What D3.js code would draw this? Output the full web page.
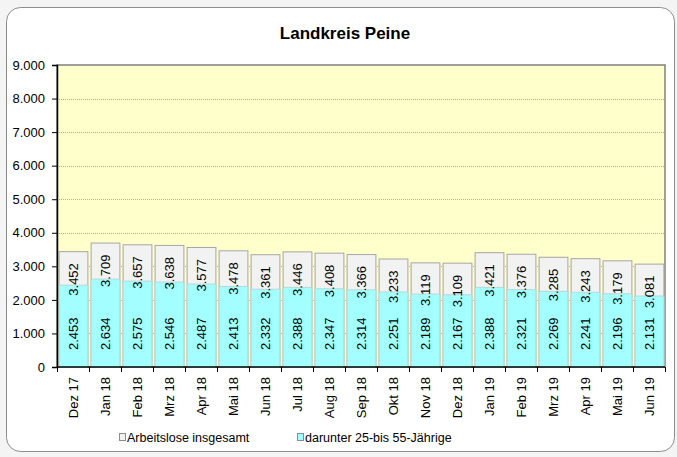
<!DOCTYPE html>
<html>
<head>
<meta charset="utf-8">
<script src="https://cdn.jsdelivr.net/npm/d3@7"></script>
<style>
  body { margin: 0; background: #f4f4f4; }
  svg text { font-family: "Liberation Sans", Arial, sans-serif; }
</style>
</head>
<body>
<script>
const months = ["Dez 17", "Jan 18", "Feb 18", "Mrz 18", "Apr 18", "Mai 18", "Jun 18", "Jul 18", "Aug 18", "Sep 18", "Okt 18", "Nov 18", "Dez 18", "Jan 19", "Feb 19", "Mrz 19", "Apr 19", "Mai 19", "Jun 19"];
const totalValues = [3452, 3709, 3657, 3638, 3577, 3478, 3361, 3446, 3408, 3366, 3233, 3119, 3109, 3421, 3376, 3285, 3243, 3179, 3081];
const midAgeValues = [2453, 2634, 2575, 2546, 2487, 2413, 2332, 2388, 2347, 2314, 2251, 2189, 2167, 2388, 2321, 2269, 2241, 2196, 2131];
const yTicks = [0, 1000, 2000, 3000, 4000, 5000, 6000, 7000, 8000, 9000];
const seriesNames = ["Arbeitslose insgesamt", "darunter 25-bis 55-Jährige"];

const w = 677;
const h = 457;
const plotLeft = 57, plotRight = 665, plotTop = 65, plotBottom = 367;
const fmt = (v) => d3.format(",")(v).replace(/,/g, ".");

const svg = d3.select("body").append("svg").attr("width", w).attr("height", h);

// frame
svg.append("rect")
  .attr("x", 6.5).attr("y", 7.5)
  .attr("width", 668).attr("height", 444)
  .attr("rx", 14)
  .attr("fill", "#fff")
  .attr("stroke", "#8c8c8c");

svg.append("text")
  .attr("x", 345).attr("y", 39)
  .attr("text-anchor", "middle")
  .attr("font-size", 17).attr("font-weight", "bold")
  .text("Landkreis Peine");

const xScale = d3.scaleBand().domain(months).range([plotLeft, plotRight]).paddingInner(0.1).paddingOuter(0.05);
const yScale = d3.scaleLinear().domain([0, 9000]).range([plotBottom, plotTop]);

// plot area
svg.append("rect")
  .attr("x", plotLeft).attr("y", plotTop)
  .attr("width", plotRight - plotLeft).attr("height", plotBottom - plotTop)
  .attr("fill", "#ffffcc")
  .attr("stroke", "#808080")
  .attr("stroke-width", 1.5);

svg.append("g")
  .selectAll("line")
  .data(yTicks.slice(1, -1))
  .enter()
  .append("line")
  .attr("x1", plotLeft).attr("x2", plotRight)
  .attr("y1", (d) => Math.round(yScale(d)) + 0.5)
  .attr("y2", (d) => Math.round(yScale(d)) + 0.5)
  .attr("stroke", "#b0b0a0")
  .attr("stroke-dasharray", "1,1");

// total bars
svg.append("g")
  .selectAll("rect")
  .data(totalValues)
  .enter()
  .append("rect")
  .attr("x", (d, i) => xScale(months[i]) + 0.5)
  .attr("y", (d) => yScale(d) + 0.5)
  .attr("width", xScale.bandwidth())
  .attr("height", (d) => plotBottom - yScale(d))
  .attr("fill", "#f2f2f2")
  .attr("stroke", "#a6a6a6");

// 25-55 bars
svg.append("g")
  .selectAll("rect")
  .data(midAgeValues)
  .enter()
  .append("rect")
  .attr("x", (d, i) => xScale(months[i]) + 0.5)
  .attr("y", (d) => yScale(d) + 0.5)
  .attr("width", xScale.bandwidth())
  .attr("height", (d) => plotBottom - yScale(d))
  .attr("fill", "#a3ffff")
  .attr("stroke", "#b3d9d9");

// labels
svg.append("g")
  .selectAll("text")
  .data(totalValues)
  .enter()
  .append("text")
  .attr("transform", (d, i) => `translate(${xScale(months[i]) + xScale.bandwidth() / 2 + 5},${yScale(d) + 12}) rotate(-90)`)
  .attr("text-anchor", "end")
  .attr("font-size", 13)
  .text(fmt);

svg.append("g")
  .selectAll("text")
  .data(midAgeValues)
  .enter()
  .append("text")
  .attr("transform", (d, i) => `translate(${xScale(months[i]) + xScale.bandwidth() / 2 + 5},${plotBottom - 17}) rotate(-90)`)
  .attr("text-anchor", "start")
  .attr("font-size", 13)
  .text(fmt);

// axes
const yAxis = d3.axisLeft(yScale).tickValues(yTicks).tickSize(5).tickFormat(fmt);
const gy = svg.append("g").attr("transform", `translate(${plotLeft},0)`).call(yAxis);
gy.selectAll("text").attr("font-size", 13).attr("fill", "#000").attr("x", -12);
gy.selectAll("line").attr("stroke", "#000");
gy.select(".domain").attr("stroke", "#000").attr("stroke-width", 1.5);

const gx = svg.append("g").attr("transform", `translate(0,${plotBottom})`);
gx.append("line").attr("x1", plotLeft).attr("x2", plotRight).attr("stroke", "#000").attr("stroke-width", 1.5);
gx.selectAll("line.tick")
  .data(d3.range(months.length + 1))
  .enter()
  .append("line")
  .attr("class", "tick")
  .attr("x1", (i) => Math.round(plotLeft + i * (plotRight - plotLeft) / months.length) + 0.5)
  .attr("x2", (i) => Math.round(plotLeft + i * (plotRight - plotLeft) / months.length) + 0.5)
  .attr("y1", 0).attr("y2", 5)
  .attr("stroke", "#000");
gx.selectAll("text")
  .data(months)
  .enter()
  .append("text")
  .attr("transform", (d) => `translate(${xScale(d) + xScale.bandwidth() / 2 + 5},10) rotate(-90)`)
  .attr("text-anchor", "end")
  .attr("font-size", 13)
  .text((d) => d);

// legend
const legend = svg.append("g").attr("font-size", 12.5);
const legendX = [119, 297];
const legendFill = ["#f2f2f2", "#a3ffff"];
const legendStroke = ["#8c8c8c", "#8c8c8c"];
seriesNames.forEach((name, i) => {
  legend.append("rect")
    .attr("x", legendX[i] + 0.5).attr("y", 433.5)
    .attr("width", 6).attr("height", 7)
    .attr("fill", legendFill[i]).attr("stroke", legendStroke[i]);
  legend.append("text")
    .attr("x", legendX[i] + 8).attr("y", 442)
    .text(name);
});
</script>
</body>
</html>
